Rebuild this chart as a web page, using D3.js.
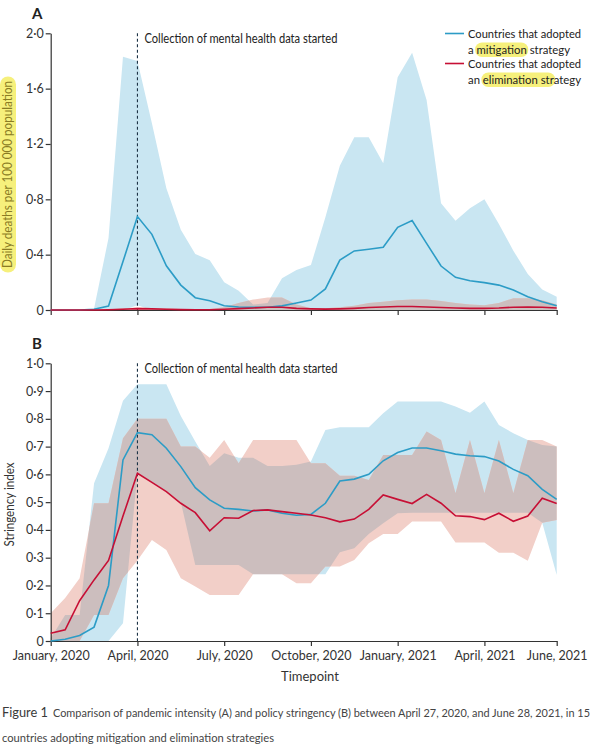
<!DOCTYPE html>
<html><head><meta charset="utf-8">
<script src="https://cdn.jsdelivr.net/npm/d3@7"></script>
<style>
body{margin:0;background:#fff}
svg text{font-family:Lato,"Open Sans",sans-serif}
</style>
</head><body>
<svg id="chart" width="600" height="751"></svg>
<script>
// ---- data ----
const timepoints = [
 "2020-01a","2020-01b","2020-02a","2020-02b","2020-03a","2020-03b","2020-04a","2020-04b",
 "2020-05a","2020-05b","2020-06a","2020-06b","2020-07a","2020-07b","2020-08a","2020-08b",
 "2020-09a","2020-09b","2020-10a","2020-10b","2020-11a","2020-11b","2020-12a","2020-12b",
 "2021-01a","2021-01b","2021-02a","2021-02b","2021-03a","2021-03b","2021-04a","2021-04b",
 "2021-05a","2021-05b","2021-06a","2021-06b"];
const xTickValues = ["2020-01a","2020-04a","2020-07a","2020-10a","2021-01a","2021-04a","2021-06b"];
const xTickLabels = ["January, 2020","April, 2020","July, 2020","October, 2020","January, 2021","April, 2021","June, 2021"];
const dataStartTimepoint = "2020-04a";

// Panel A: daily deaths per 100 000 population
const deathsTicks = [0, 0.4, 0.8, 1.2, 1.6, 2.0];
const mitDeathsMean = [0,0,0,0.005,0.029,0.35,0.675,0.547,0.32,0.18,0.089,0.067,0.031,0.022,0.019,0.02,0.03,0.05,
  0.072,0.152,0.361,0.427,0.439,0.453,0.598,0.646,0.482,0.318,0.236,0.212,0.198,0.18,0.145,0.096,0.06,0.031];
const mitDeathsHigh = [0,0,0,0.01,0.52,1.83,1.80,1.35,0.88,0.58,0.405,0.36,0.2,0.14,0.04,0.05,0.229,0.289,
  0.325,0.67,1.043,1.248,1.248,1.06,1.682,1.86,1.518,0.771,0.646,0.735,0.80,0.622,0.429,0.26,0.149,0.096];
const mitDeathsLow = [0,0,0,0,0,0,0.035,0,0,0,0,0,0,0,0,0,0,0,0,0,0,0,0,0,0,0,0,0,0,0,0,0,0,0,0,0];
const elimDeathsMean = [0,0,0,0,0.002,0.005,0.01,0.008,0.005,0.003,0.002,0.002,0.005,0.01,0.015,0.02,0.02,0.012,
  0.008,0.006,0.008,0.012,0.018,0.022,0.025,0.025,0.022,0.018,0.014,0.012,0.012,0.014,0.02,0.022,0.02,0.015];
const elimDeathsHigh = [0,0,0,0,0.005,0.01,0.02,0.015,0.01,0.008,0.006,0.008,0.02,0.05,0.075,0.09,0.09,0.04,
  0.012,0.012,0.02,0.03,0.05,0.06,0.07,0.075,0.075,0.065,0.05,0.04,0.035,0.05,0.085,0.085,0.07,0.04];
const elimDeathsLow = [0,0,0,0,0,0,0,0,0,0,0,0,0,0,0,0,0,0,0,0,0,0,0,0,0,0,0,0,0,0,0,0,0,0,0,0];

// Panel B: stringency index
const stringTicks = [0,0.1,0.2,0.3,0.4,0.5,0.6,0.7,0.8,0.9,1.0];
const mitStringMean = [0.0,0.006,0.02,0.05,0.2,0.652,0.75,0.743,0.694,0.628,0.552,0.508,0.478,0.474,0.468,0.472,0.46,0.453,
  0.456,0.496,0.576,0.583,0.6,0.649,0.679,0.695,0.695,0.685,0.673,0.667,0.664,0.648,0.618,0.595,0.546,0.51];
const mitStringHigh = [0.01,0.094,0.094,0.568,0.694,0.865,0.925,0.925,0.925,0.81,0.718,0.63,0.676,0.66,0.66,0.63,0.63,0.635,
  0.646,0.76,0.77,0.77,0.77,0.82,0.862,0.862,0.862,0.862,0.844,0.822,0.862,0.778,0.748,0.724,0.706,0.70];
const mitStringLow = [0,0,0,0,0,0.064,0.604,0.57,0.54,0.50,0.274,0.274,0.274,0.274,0.24,0.24,0.24,0.24,
  0.24,0.24,0.32,0.334,0.385,0.424,0.46,0.462,0.462,0.462,0.462,0.462,0.462,0.462,0.462,0.462,0.426,0.238];
const elimStringMean = [0.028,0.04,0.145,0.22,0.29,0.45,0.604,0.571,0.538,0.496,0.462,0.397,0.444,0.442,0.47,0.472,0.466,0.46,
  0.454,0.444,0.429,0.439,0.474,0.526,0.51,0.495,0.528,0.496,0.451,0.448,0.437,0.46,0.431,0.45,0.514,0.495];
const elimStringHigh = [0.1,0.155,0.226,0.496,0.496,0.73,0.80,0.80,0.80,0.70,0.70,0.66,0.724,0.64,0.724,0.724,0.724,0.724,
  0.64,0.64,0.595,0.595,0.58,0.67,0.67,0.67,0.754,0.724,0.532,0.724,0.532,0.724,0.532,0.724,0.724,0.70];
const elimStringLow = [0,0,0,0.094,0.094,0.226,0.29,0.364,0.328,0.226,0.196,0.166,0.166,0.166,0.24,0.24,0.24,0.208,
  0.208,0.268,0.268,0.292,0.352,0.385,0.385,0.43,0.43,0.43,0.355,0.355,0.355,0.318,0.318,0.289,0.426,0.436];

const legendLabels = [["Countries that adopted","a ","mitigation"," strategy"],
                      ["Countries that adopted","an ","elimination str","ategy"]];

// ---- styling ----
const C = {blueBand:"#c9e6f2", pinkBand:"#f2cfc8", overlap:"#ccbebe",
           blue:"#2c9cc6", red:"#c70f35", axis:"#333", text:"#333", hl:"#f6f07c", hlText:"#8a7c24"};

const svg = d3.select("#chart");
const x = d3.scalePoint().domain(timepoints).range([50.7, 556.7]);
const fmt = d => d === 0 ? "0" : d3.format(".1f")(d).replace(".", "·");
const fit = (sel, w) => sel.attr("textLength", w).attr("lengthAdjust", "spacingAndGlyphs");

function panel(cfg) {
  const g = svg.append("g");
  const y = d3.scaleLinear().domain(cfg.domain).range([cfg.bottom, cfg.top]);
  const band = (lo, hi) => d3.area()
      .x((d, i) => x(timepoints[i])).y0((d, i) => y(lo[i])).y1((d, i) => y(hi[i]))(timepoints);
  const line = vals => d3.line().x((d, i) => x(timepoints[i])).y(d => y(d))(vals);

  const clipId = "clip" + cfg.id;
  svg.append("defs").append("clipPath").attr("id", clipId)
     .append("path").attr("d", band(cfg.mitLow, cfg.mitHigh));

  g.append("path").attr("d", band(cfg.mitLow, cfg.mitHigh)).attr("fill", C.blueBand);
  g.append("path").attr("d", band(cfg.elimLow, cfg.elimHigh)).attr("fill", C.pinkBand);
  g.append("path").attr("d", band(cfg.elimLow, cfg.elimHigh)).attr("fill", C.overlap)
     .attr("clip-path", `url(#${clipId})`);

  // x axis
  const xa = g.append("g").attr("transform", `translate(0,${cfg.bottom})`)
    .call(d3.axisBottom(x).tickValues(xTickValues).tickSize(5).tickSizeOuter(0)
      .tickFormat(d => cfg.labels ? xTickLabels[xTickValues.indexOf(d)] : ""));
  xa.select(".domain").attr("stroke", C.axis).attr("stroke-width", 1.2);
  xa.selectAll(".tick line").attr("stroke", C.axis).attr("stroke-width", 1.2);
  xa.selectAll(".tick text").attr("fill", C.text).attr("font-size", 12.5).attr("dy", "0.85em");

  // y axis
  const ya = g.append("g").attr("transform", `translate(${x(timepoints[0])},0)`)
    .call(d3.axisLeft(y).tickValues(cfg.ticks).tickSize(5).tickSizeOuter(0).tickFormat(fmt));
  ya.select(".domain").attr("stroke", C.axis).attr("stroke-width", 1.2);
  ya.selectAll(".tick line").attr("stroke", C.axis).attr("stroke-width", 1.2);
  ya.selectAll(".tick text").attr("fill", C.text).attr("font-size", 12.5).attr("x", -7);

  // dashed marker
  const xd = x(dataStartTimepoint);
  g.append("line").attr("x1", xd).attr("x2", xd).attr("y1", cfg.top).attr("y2", cfg.bottom)
    .attr("stroke", "#1d3346").attr("stroke-width", 1.1).attr("stroke-dasharray", "3,2.5");
  fit(g.append("text").attr("x", xd + 7).attr("y", cfg.top + 9.5).attr("font-size", 12.5)
    .attr("fill", "#222").text("Collection of mental health data started"), 193);

  // mean lines
  g.append("path").attr("d", line(cfg.mitMean)).attr("fill", "none").attr("stroke", C.blue).attr("stroke-width", 1.6);
  g.append("path").attr("d", line(cfg.elimMean)).attr("fill", "none").attr("stroke", C.red).attr("stroke-width", 1.6);

  // panel letter
  svg.append("text").attr("x", 32).attr("y", cfg.top - 14).attr("font-size", 15).attr("font-weight", "bold")
    .attr("fill", "#222").text(cfg.letter);
  return g;
}

panel({id:"A", letter:"A", domain:[0,2], top:33.3, bottom:310, ticks:deathsTicks, labels:false,
  mitMean:mitDeathsMean, mitHigh:mitDeathsHigh, mitLow:mitDeathsLow,
  elimMean:elimDeathsMean, elimHigh:elimDeathsHigh, elimLow:elimDeathsLow});
panel({id:"B", letter:"B", domain:[0,1], top:363.3, bottom:641, ticks:stringTicks, labels:true,
  mitMean:mitStringMean, mitHigh:mitStringHigh, mitLow:mitStringLow,
  elimMean:elimStringMean, elimHigh:elimStringHigh, elimLow:elimStringLow});

// y axis titles
const yt = svg.append("g").attr("transform", "translate(12,174.5) rotate(-90)");
yt.append("rect").attr("x", -98).attr("y", -12).attr("width", 196).attr("height", 16).attr("rx", 8).attr("fill", C.hl);
fit(yt.append("text").attr("x", -93.5).attr("font-size", 13).attr("fill", C.hlText)
  .text("Daily deaths per 100 000 population"), 187);
fit(svg.append("text").attr("transform", "translate(14,546.5) rotate(-90)")
  .attr("font-size", 13).attr("fill", C.text).text("Stringency index"), 84);

// x title
svg.append("text").attr("x", 310).attr("y", 681).attr("text-anchor", "middle").attr("font-size", 13)
  .attr("fill", C.text).text("Timepoint");

// legend
const legColors = [C.blue, C.red];
const legWidths = [[113, 102], [113, 113]];
legendLabels.forEach((lab, k) => {
  const y0 = 33.5 + k * 30;
  svg.append("line").attr("x1", 445).attr("x2", 464).attr("y1", y0).attr("y2", y0)
    .attr("stroke", legColors[k]).attr("stroke-width", 1.6);
  fit(svg.append("text").attr("x", 468).attr("y", y0 + 4.5).attr("font-size", 12).attr("fill", "#222").text(lab[0]), legWidths[k][0]);
  const hg = svg.append("g");
  const t = svg.append("text").attr("x", 468).attr("y", y0 + 20).attr("font-size", 12).attr("fill", "#222");
  t.append("tspan").text(lab[1]);
  t.append("tspan").text(lab[2]);
  t.append("tspan").text(lab[3]);
  const node = t.node();
  const total = node.getComputedTextLength();
  const k2 = legWidths[k][1] / total;
  const s = node.getSubStringLength(0, lab[1].length) * k2;
  const w = node.getSubStringLength(lab[1].length, lab[2].length) * k2;
  fit(t, legWidths[k][1]);
  hg.append("rect").attr("x", 468 + s - 1.5).attr("y", y0 + 9).attr("width", w + 3).attr("height", 14.5)
    .attr("rx", 7).attr("fill", C.hl);
});

// caption
fit(svg.append("text").attr("x", 2).attr("y", 717).attr("font-size", 13).attr("fill", "#3a3a3a").text("Figure 1"), 46);
fit(svg.append("text").attr("x", 53).attr("y", 717).attr("font-size", 11).attr("fill", "#444")
  .text("Comparison of pandemic intensity (A) and policy stringency (B) between April 27, 2020, and June 28, 2021, in 15"), 537);
fit(svg.append("text").attr("x", 2).attr("y", 742).attr("font-size", 11).attr("fill", "#444")
  .text("countries adopting mitigation and elimination strategies"), 272);
</script>
</body></html>
